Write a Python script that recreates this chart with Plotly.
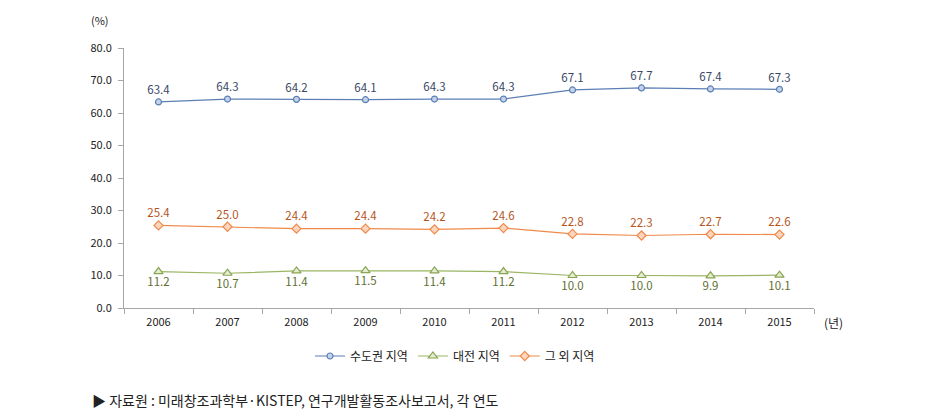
import plotly.graph_objects as go

years = ["2006", "2007", "2008", "2009", "2010", "2011", "2012", "2013", "2014", "2015"]
capital = [63.4, 64.3, 64.2, 64.1, 64.3, 64.3, 67.1, 67.7, 67.4, 67.3]
daejeon = [11.2, 10.7, 11.4, 11.5, 11.4, 11.2, 10.0, 10.0, 9.9, 10.1]
others = [25.4, 25.0, 24.4, 24.4, 24.2, 24.6, 22.8, 22.3, 22.7, 22.6]
names = ["수도권 지역", "대전 지역", "그 외 지역"]
y_ticks = [0, 10, 20, 30, 40, 50, 60, 70, 80]

FONT = "Noto Sans CJK KR, Noto Sans, sans-serif"

# page body has an 8px default margin, so the figure is laid out 8px inside the window
W, H = 920, 411
l, r, t, b = 116, 114, 40, 111
pw, ph = W - l - r, H - t - b

def px2paper(px, py):
    return (px - l) / pw, (H - b - py) / ph

fig = go.Figure()
fig.add_trace(go.Scatter(
    x=years, y=capital, name=names[0], mode="lines+markers+text",
    line=dict(color="#5b7fb5", width=1.2),
    marker=dict(symbol="circle", size=6, color="#c5d3ea", line=dict(color="#5b7fb5", width=1.2)),
    text=[f"{v:.1f}" for v in capital], textposition="top center",
    textfont=dict(color="#3a4a66", size=11.5, family=FONT),
))
fig.add_trace(go.Scatter(
    x=years, y=daejeon, name=names[1], mode="lines+markers+text",
    line=dict(color="#9bb565", width=1.2),
    marker=dict(symbol="triangle-up", size=8, color="#e4ecd2", line=dict(color="#8aa451", width=1.2)),
    text=[f"{v:.1f}" for v in daejeon], textposition="bottom center",
    textfont=dict(color="#5f7032", size=11.5, family=FONT),
))
fig.add_trace(go.Scatter(
    x=years, y=others, name=names[2], mode="lines+markers+text",
    line=dict(color="#f08a4b", width=1.2),
    marker=dict(symbol="diamond", size=7, color="#fbd5bd", line=dict(color="#f08a4b", width=1.2)),
    text=[f"{v:.1f}" for v in others], textposition="top center",
    textfont=dict(color="#b5561e", size=11.5, family=FONT),
))

lx, ly = px2paper(447, 348)
a1 = px2paper(92, 12)
a2 = px2paper(814, 314)
a3 = px2paper(82, 392)

fig.update_layout(
    width=W, height=H,
    margin=dict(l=l, r=r, t=t, b=b, autoexpand=False),
    paper_bgcolor="white", plot_bgcolor="white",
    font=dict(family=FONT, size=11, color="#222222"),
    showlegend=True,
    legend=dict(orientation="h", x=lx, xanchor="center", y=ly, yanchor="middle",
                font=dict(size=12, family=FONT), itemwidth=30, tracegroupgap=0),
    xaxis=dict(type="category", range=[-0.5, 9.5], showline=True, linecolor="#a6a6a6",
               ticks="outside", tickson="boundaries", ticklen=5, tickcolor="#a6a6a6",
               showgrid=False, tickfont=dict(size=11, family=FONT), ticklabelstandoff=4),
    yaxis=dict(range=[0, 80], tickvals=y_ticks, tickformat=".1f", showline=True,
               linecolor="#a6a6a6", ticks="outside", ticklen=5, tickcolor="#a6a6a6",
               showgrid=False, zeroline=False, tickfont=dict(size=11, family=FONT),
               ticklabelstandoff=4),
    annotations=[
        dict(text="(%)", x=a1[0], y=a1[1], xref="paper", yref="paper", showarrow=False,
             font=dict(size=11), xanchor="center", yanchor="middle"),
        dict(text="(년)", x=a2[0], y=a2[1], xref="paper", yref="paper", showarrow=False,
             font=dict(size=12), xanchor="left", yanchor="middle"),
        dict(text="▶ 자료원 : 미래창조과학부·KISTEP, 연구개발활동조사보고서, 각 연도", x=a3[0], y=a3[1],
             xref="paper", yref="paper", showarrow=False, font=dict(size=14),
             xanchor="left", yanchor="middle"),
    ],
)

fig.write_html("out.html")
